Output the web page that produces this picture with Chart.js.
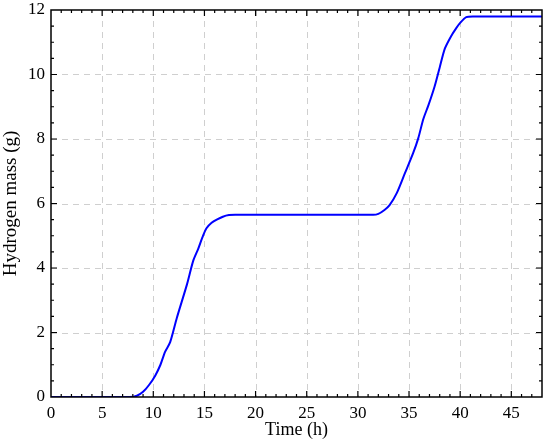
<!DOCTYPE html>
<html>
<head>
<meta charset="utf-8">
<script src="https://cdn.jsdelivr.net/npm/chart.js@4.4.1/dist/chart.umd.min.js"></script>
<style>
  html, body { margin: 0; padding: 0; background: #fff; }
  #wrap { width: 550px; height: 443px; }
</style>
</head>
<body>
<div id="wrap"><canvas id="h2Chart" width="550" height="443"></canvas></div>
<script>
// Time axis (h) and hydrogen mass (g)
const timeHours = [0, 7.7, 8.4, 9.0, 9.6, 10.2, 10.7, 11.15, 11.65, 12.3, 13.3, 13.9, 14.4, 14.8, 15.2, 15.7, 16.2, 16.8, 17.4, 18.0,
                   31.5, 32.0, 32.6, 33.1, 33.8, 34.6, 35.4, 35.9, 36.4, 36.9, 37.5, 38.0, 38.5, 39.1, 39.6, 40.0, 40.6, 41.3, 48];
const hydrogenMass = [0, 0, 0.04, 0.16, 0.38, 0.67, 1.0, 1.40, 1.70, 2.45, 3.50, 4.22, 4.60, 4.95, 5.23, 5.40, 5.50, 5.59, 5.64, 5.65,
                      5.65, 5.68, 5.80, 5.95, 6.32, 6.94, 7.56, 8.02, 8.62, 9.05, 9.63, 10.22, 10.80, 11.18, 11.43, 11.6, 11.78, 11.8, 11.8];

const xMajor = [0, 5, 10, 15, 20, 25, 30, 35, 40, 45];
const yMajor = [0, 2, 4, 6, 8, 10, 12];

const serif = '"Liberation Serif", "Times New Roman", serif';

// Draws dashed grid, the box frame and the inward minor/major ticks
const frameAndTicks = {
    id: 'frameAndTicks',
    beforeDatasetsDraw(chart) {
        const { ctx, chartArea: a, scales: { x, y } } = chart;
        ctx.save();
        ctx.strokeStyle = '#cfcfcf';
        ctx.lineWidth = 1;
        ctx.setLineDash([6, 5]);
        xMajor.forEach(v => {
            if (v === 0) return;
            const px = Math.round(x.getPixelForValue(v)) + 0.5;
            ctx.beginPath(); ctx.moveTo(px, a.top); ctx.lineTo(px, a.bottom); ctx.stroke();
        });
        yMajor.forEach(v => {
            if (v === 0 || v === 12) return;
            const py = Math.round(y.getPixelForValue(v)) + 0.5;
            ctx.beginPath(); ctx.moveTo(a.left, py); ctx.lineTo(a.right, py); ctx.stroke();
        });
        ctx.restore();
    },
    afterDatasetsDraw(chart) {
        const { ctx, chartArea: a, scales: { x, y } } = chart;
        ctx.save();
        ctx.strokeStyle = '#000';
        ctx.lineWidth = 1.2;
        ctx.setLineDash([]);
        ctx.beginPath();
        for (let v = 1; v < 48; v++) {
            const len = v % 5 === 0 ? 6 : 3;
            const px = x.getPixelForValue(v);
            ctx.moveTo(px, a.bottom); ctx.lineTo(px, a.bottom - len);
            ctx.moveTo(px, a.top); ctx.lineTo(px, a.top + len);
        }
        for (let v = 0.5; v < 12; v += 0.5) {
            const len = v % 2 === 0 ? 6 : 3;
            const py = y.getPixelForValue(v);
            ctx.moveTo(a.left, py); ctx.lineTo(a.left + len, py);
            ctx.moveTo(a.right, py); ctx.lineTo(a.right - len, py);
        }
        ctx.stroke();
        ctx.lineWidth = 1.5;
        ctx.strokeRect(a.left, a.top, a.right - a.left, a.bottom - a.top);
        ctx.restore();
    }
};

new Chart(document.getElementById('h2Chart').getContext('2d'), {
    type: 'line',
    data: {
        datasets: [{
            data: timeHours.map((t, i) => ({ x: t, y: hydrogenMass[i] })),
            borderColor: '#0000ff',
            borderWidth: 2,
            pointRadius: 0,
            fill: false,
            tension: 0.25
        }]
    },
    options: {
        responsive: false,
        animation: false,
        events: [],
        layout: { padding: { top: 10, right: 8, left: 0, bottom: 0 } },
        plugins: { legend: { display: false }, tooltip: { enabled: false } },
        scales: {
            x: {
                type: 'linear',
                min: 0,
                max: 48,
                afterFit: s => { s.height = 46; s.paddingLeft = 0; s.paddingRight = 0; },
                grid: { display: false, drawTicks: false },
                border: { display: false },
                ticks: { stepSize: 5, includeBounds: false, color: '#000', padding: 6, maxRotation: 0,
                         font: { family: serif, size: 17 } },
                title: { display: true, text: 'Time (h)', color: '#000', padding: { top: 0, bottom: 2 },
                         font: { family: serif, size: 18 } }
            },
            y: {
                min: 0,
                max: 12,
                afterFit: s => { s.width = 51; s.paddingTop = 0; s.paddingBottom = 0; },
                grid: { display: false, drawTicks: false },
                border: { display: false },
                ticks: { stepSize: 2, color: '#000', padding: 6, font: { family: serif, size: 17 } },
                title: { display: true, text: 'Hydrogen mass (g)', color: '#000', padding: { top: 0, bottom: 3 },
                         font: { family: serif, size: 19 } }
            }
        }
    },
    plugins: [frameAndTicks]
});
</script>
</body>
</html>
